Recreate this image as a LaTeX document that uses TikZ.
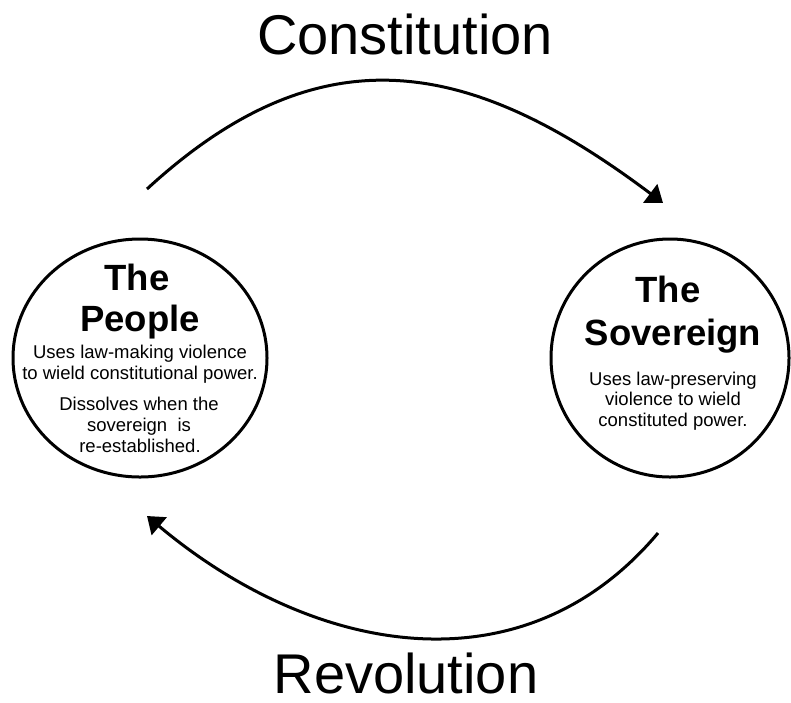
\documentclass[tikz,border=0pt]{standalone}
\usepackage{fontspec}
\setmainfont{Liberation Sans}
\usetikzlibrary{arrows.meta,shapes.geometric}
\tikzset{
  ring/.style={draw=black,line width=3pt,inner sep=0pt},
  bigword/.style={anchor=base,inner sep=0pt,font=\fontsize{56}{60}\selectfont},
  headword/.style={anchor=base,inner sep=0pt,font=\fontsize{36.5}{40}\selectfont\bfseries},
  bodyline/.style={anchor=base,inner sep=0pt,font=\fontsize{18.5}{21}\selectfont},
  cycle arrow/.style={line width=3pt,-{Triangle[length=16pt,width=23pt]}}
}
\begin{document}
\begin{tikzpicture}[x=1pt,y=-1pt]
\useasboundingbox (0,0) rectangle (791,702);
% circles
\node[ring,ellipse,minimum width=254pt,minimum height=238pt] (people) at (140,358) {};
\node[ring,circle,minimum size=238pt] (sovereign) at (670,358) {};
% titles
\node[bigword] (constitution) at (405,54) {Constitution};
\node[bigword] (revolution) at (406,693) {Revolution};
% left circle text
\node[headword] (pthe) at (137,290) {The};
\node[headword] (ppeople) at (140,331) {People};
\node[bodyline] (pl1) at (140,358) {Uses law-making violence};
\node[bodyline] (pl2) at (140,379) {to wield constitutional power.};
\node[bodyline] (pl3) at (139,410) {Dissolves when the};
\node[bodyline] (pl4) at (139,431) {sovereign~ is};
\node[bodyline] (pl5) at (140,452) {re-established.};
% right circle text
\node[headword] (sthe) at (668,302) {The};
\node[headword] (ssov) at (673,345) {Sovereign};
\node[bodyline] (sl1) at (673,385) {Uses law-preserving};
\node[bodyline] (sl2) at (673,405) {violence to wield};
\node[bodyline] (sl3) at (673,426) {constituted power.};
% arrows
\coordinate (topstart) at (147,189);
\coordinate (topend) at (663,203);
\coordinate (botstart) at (658,533);
\coordinate (botend) at (147,516);
\draw[cycle arrow] (topstart) .. controls (320,30) and (469,57) .. (topend);
\draw[cycle arrow] (botstart) .. controls (521,696) and (310,653) .. (botend);
\end{tikzpicture}
\end{document}
